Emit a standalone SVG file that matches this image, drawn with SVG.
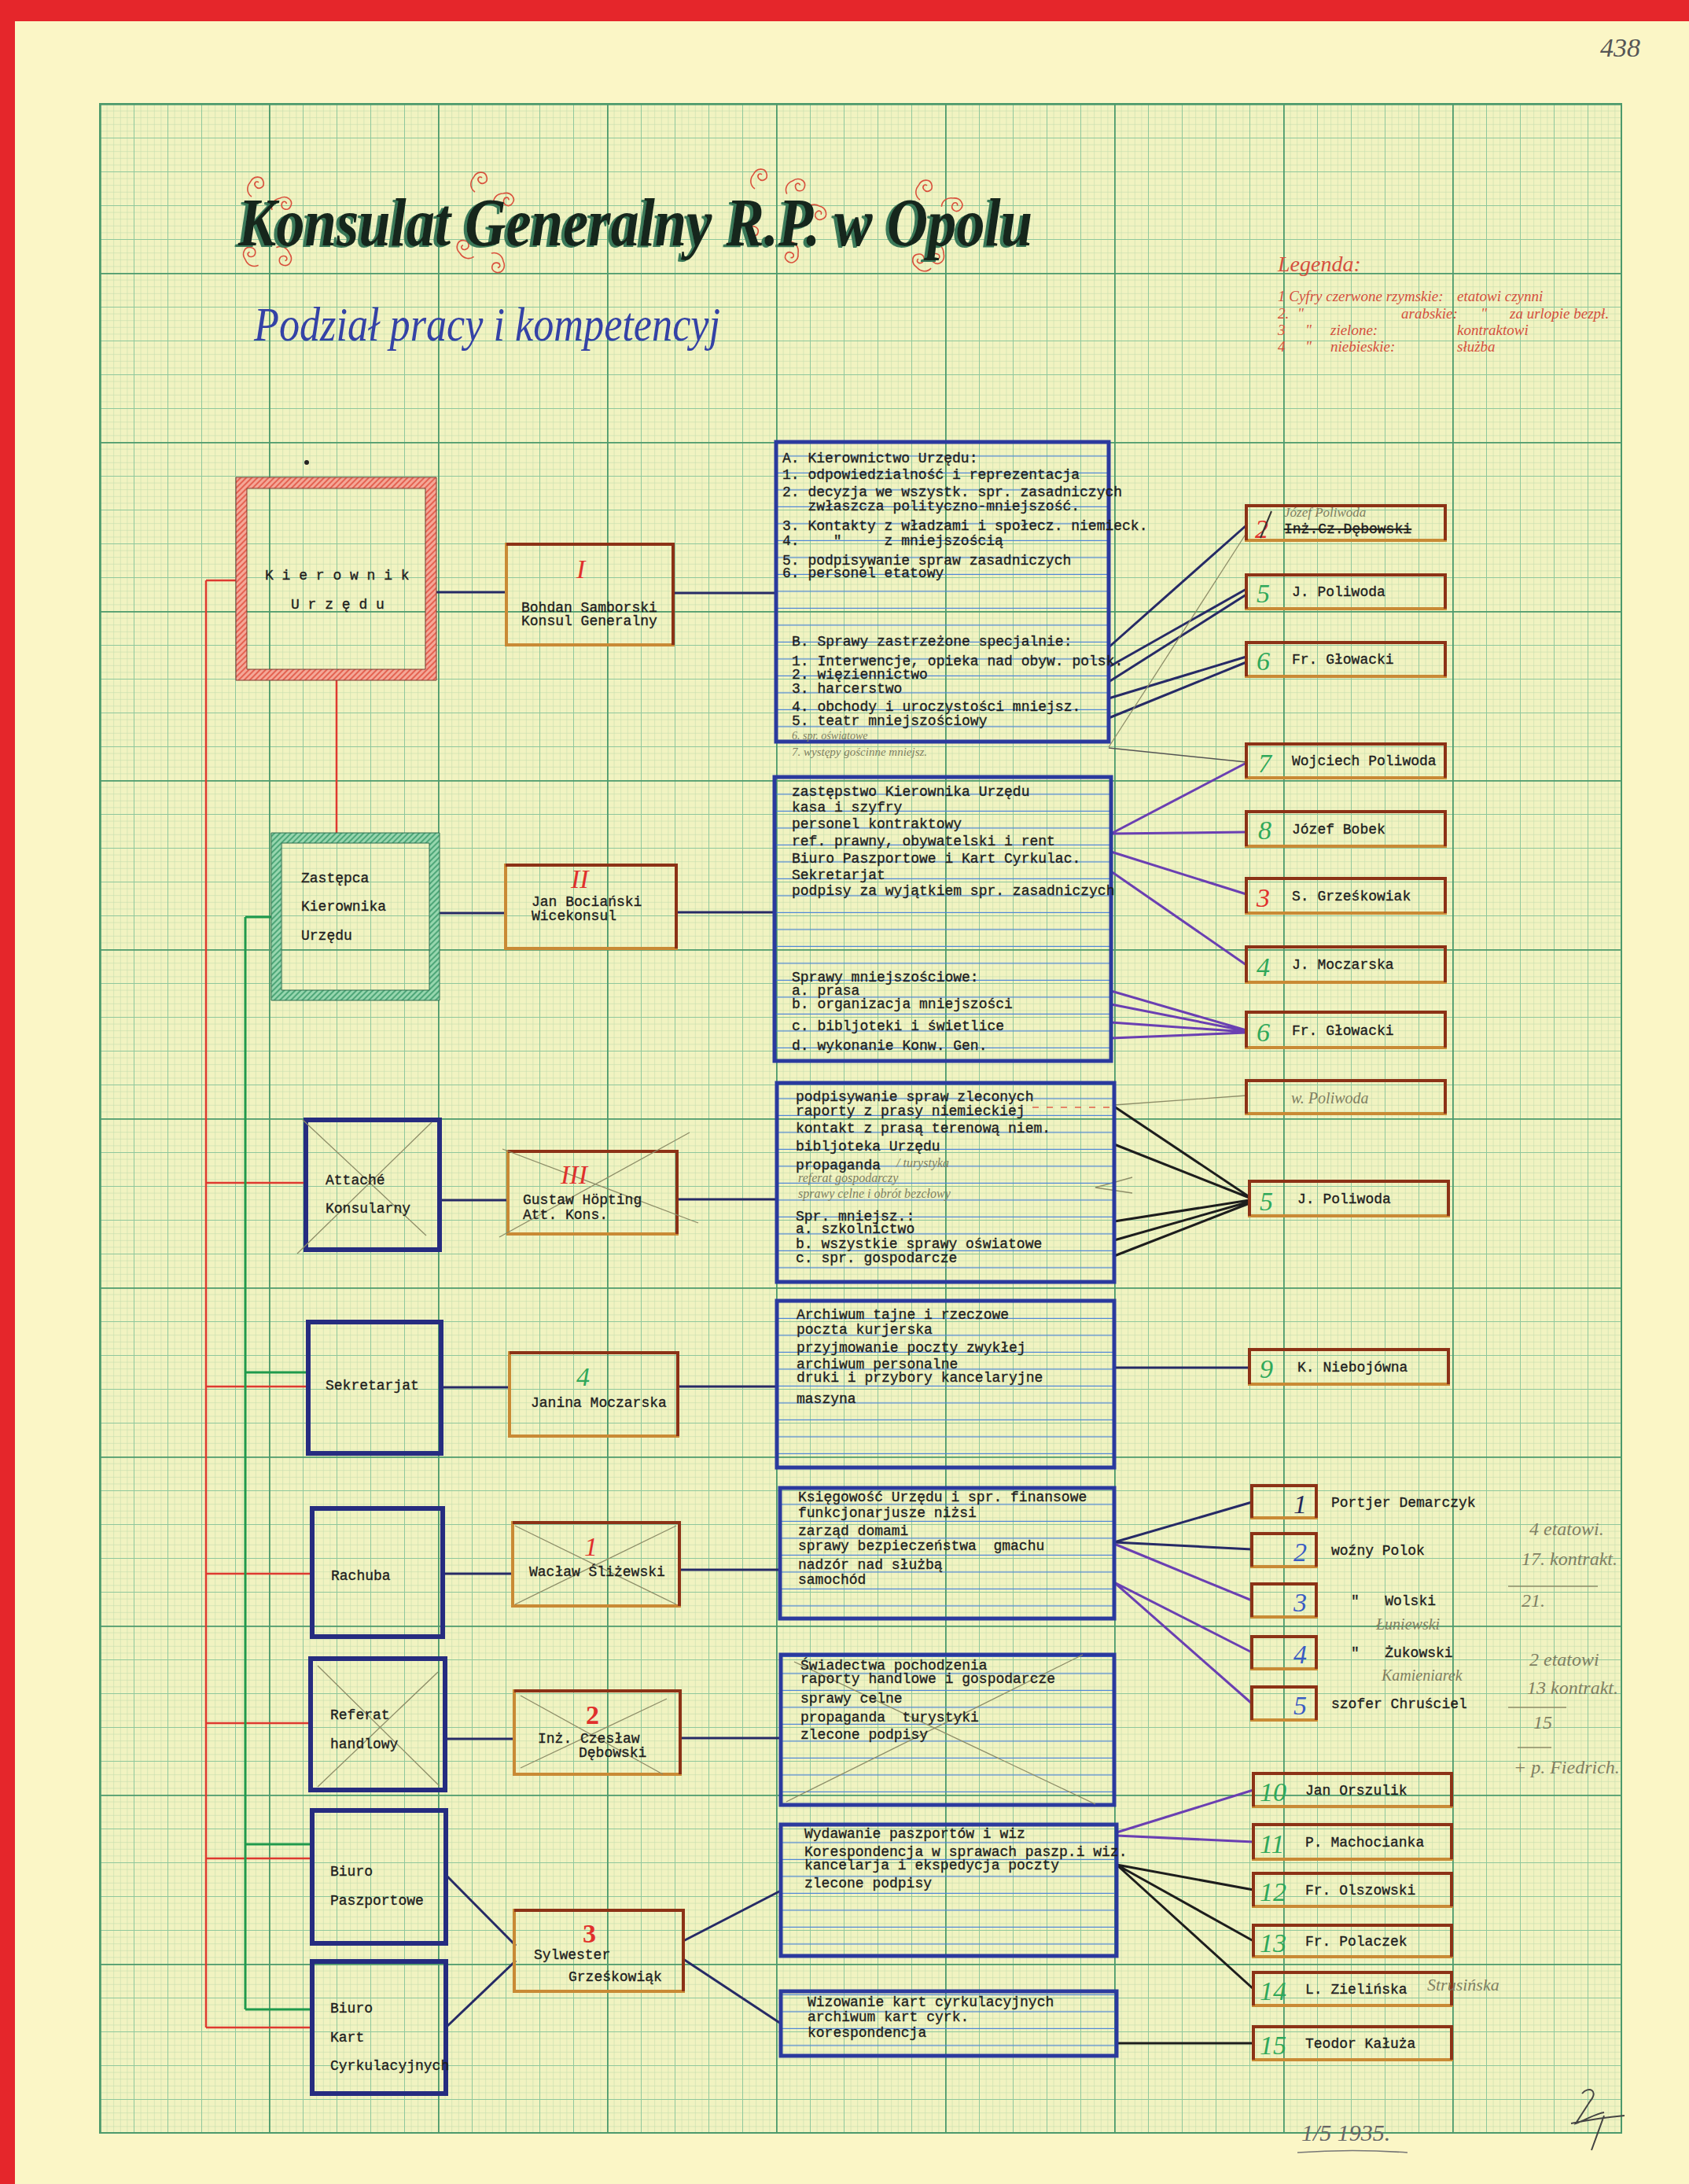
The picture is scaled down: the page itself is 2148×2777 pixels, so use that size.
<svg xmlns="http://www.w3.org/2000/svg" xmlns:xlink="http://www.w3.org/1999/xlink" width="2148" height="2777" viewBox="0 0 2148 2777">
<style>
.mono{font-family:"Liberation Mono","DejaVu Sans Mono",monospace;font-size:18px;fill:#1e1e1e;stroke:#1e1e1e;stroke-width:0.35}
.pre{white-space:pre}
.hand{font-family:"Liberation Serif","DejaVu Serif",serif;font-style:italic;fill:#7f7f62}
.blk{fill:none;stroke:#2b3a9e;stroke-width:5}
.dept{fill:none;stroke:#262c80;stroke-width:6}
.pers{fill:none;stroke:#c98a35;stroke-width:4}
.persd{fill:none;stroke:#8c3216;stroke-width:4}
.num{font-family:"Liberation Serif","DejaVu Serif",serif;font-style:italic;font-size:34px}
.bnum{font-family:"Liberation Serif","DejaVu Serif",serif;font-weight:bold;font-size:34px}
.red{fill:#e0302c}.grn{fill:#2fa85a}.blu{fill:#3a5cc4}.dk{fill:#23285a}
.cn{fill:none;stroke:#262a66;stroke-width:3}
.cp{fill:none;stroke:#6a3fb2;stroke-width:3}
.ck{fill:none;stroke:#1d1d1d;stroke-width:3}
.cr{fill:none;stroke:#de3a30;stroke-width:2.5}
.cg{fill:none;stroke:#1f9a4c;stroke-width:3}
.pencil{fill:none;stroke:#8d8d68;stroke-width:1.3}
.leg{font-family:"Liberation Serif","DejaVu Serif",serif;font-style:italic;font-size:19px;fill:#d4503e}
</style>
<defs>
<pattern id="g1" x="127" y="132" width="8.6" height="8.6" patternUnits="userSpaceOnUse"><path d="M0 0.3H8.6M0.3 0V8.6" stroke="#c3ddad" stroke-width="0.7" fill="none"/></pattern>
<pattern id="g2" x="127" y="132" width="43" height="43" patternUnits="userSpaceOnUse"><path d="M0 0.5H43M0.5 0V43" stroke="#8fc79c" stroke-width="1" fill="none"/></pattern>
<pattern id="g3" x="127" y="132" width="215" height="215" patternUnits="userSpaceOnUse"><path d="M0 0.9H215M0.9 0V215" stroke="#4c9a6c" stroke-width="1.8" fill="none"/></pattern>
<pattern id="rule" width="10" height="21.5" patternUnits="userSpaceOnUse"><path d="M0 21H10" stroke="#4f86d8" stroke-width="1.4"/></pattern>
<pattern id="hr" width="5" height="5" patternUnits="userSpaceOnUse" patternTransform="rotate(45)"><rect width="5" height="5" fill="#f4a898"/><path d="M1 0V5" stroke="#e0503f" stroke-width="1.6"/></pattern>
<pattern id="hg" width="5" height="5" patternUnits="userSpaceOnUse" patternTransform="rotate(45)"><rect width="5" height="5" fill="#97d6ae"/><path d="M1 0V5" stroke="#3a9a6a" stroke-width="1.6"/></pattern>
<path id="curl" d="M0 0c4-9 15-9 17-1c2 7-6 11-10 6c-3-4 1-8 4-5M0 0c-5 6-4 14 2 18" fill="none" stroke="#d9503c" stroke-width="1.6"/>
<filter id="sh" x="-5%" y="-20%" width="110%" height="140%"><feDropShadow dx="-4" dy="2" stdDeviation="0.5" flood-color="#3a7a5a"/></filter>
</defs>

<!-- page -->
<rect width="2148" height="2777" fill="#fbf6c6"/>
<rect x="0" y="0" width="2148" height="27" fill="#e5262b"/>
<rect x="0" y="0" width="19" height="2777" fill="#e5262b"/>
<rect x="127" y="132" width="1935" height="2580" fill="#f1f3c1"/>
<rect x="127" y="132" width="1935" height="2580" fill="url(#g1)"/>
<rect x="127" y="132" width="1935" height="2580" fill="url(#g2)"/>
<rect x="127" y="132" width="1935" height="2580" fill="url(#g3)"/>
<rect x="127" y="132" width="1935" height="2580" fill="none" stroke="#4c9a6c" stroke-width="2"/>

<text x="2035" y="72" font-family="Liberation Serif,serif" font-style="italic" font-size="34" fill="#555">438</text>

<!-- title -->
<g id="title">
<g>
<use xlink:href="#curl" transform="translate(318,232)"/><use xlink:href="#curl" transform="translate(356,252) rotate(40)"/><use xlink:href="#curl" transform="translate(312,330) rotate(-60)"/><use xlink:href="#curl" transform="translate(368,322) rotate(120)"/>
<use xlink:href="#curl" transform="translate(602,226)"/><use xlink:href="#curl" transform="translate(640,246) rotate(50)"/><use xlink:href="#curl" transform="translate(585,322) rotate(-70)"/><use xlink:href="#curl" transform="translate(640,332) rotate(130)"/>
<use xlink:href="#curl" transform="translate(958,222)"/><use xlink:href="#curl" transform="translate(1008,230) rotate(30)"/><use xlink:href="#curl" transform="translate(1042,262) rotate(80)"/><use xlink:href="#curl" transform="translate(950,302) rotate(-50)"/><use xlink:href="#curl" transform="translate(1015,322) rotate(150)"/>
<use xlink:href="#curl" transform="translate(1168,236)"/><use xlink:href="#curl" transform="translate(1212,252) rotate(60)"/><use xlink:href="#curl" transform="translate(1200,322) rotate(140)"/><use xlink:href="#curl" transform="translate(1166,340) rotate(-80)"/>
</g>
<text x="303" y="312" font-family="Liberation Serif,serif" font-style="italic" font-weight="bold" font-size="86" textLength="1010" lengthAdjust="spacingAndGlyphs" fill="#17251d" filter="url(#sh)">Konsulat Generalny R.P. w Opolu</text>
<text x="323" y="433" font-family="Liberation Serif,serif" font-style="italic" font-size="62" textLength="593" lengthAdjust="spacingAndGlyphs" fill="#3442a6">Podział pracy i kompetencyj</text>
</g>

<!-- legend -->
<g id="legend" class="leg">
<text x="1625" y="345" font-size="28">Legenda:</text>
<text x="1625" y="383">1 Cyfry czerwone rzymskie:</text><text x="1853" y="383">etatowi czynni</text>
<text x="1625" y="405">2.</text><text x="1650" y="405">"</text><text x="1782" y="405">arabskie:</text><text x="1883" y="405">"</text><text x="1920" y="405">za urlopie bezpł.</text>
<text x="1625" y="426">3</text><text x="1660" y="426">"</text><text x="1692" y="426">zielone:</text><text x="1853" y="426">kontraktowi</text>
<text x="1625" y="447">4</text><text x="1660" y="447">"</text><text x="1692" y="447">niebieskie:</text><text x="1853" y="447">służba</text>
</g>

<!-- connectors -->
<g id="connectors">
<path class="cr" d="M262 738H300M262 738V2578M428 865V1059M262 1504H389M262 1763H392M262 2001H397M262 2191H395M262 2363H397M262 2578H397"/>
<path class="cg" d="M312 1166H345M312 1166V2555M312 1745H392M312 2345H397M312 2555H397"/>
<path class="cn" d="M555 753H644M856 754H987M559 1161H643M860 1160H985M559 1526H646M861 1525H988M561 1764H648M862 1763H988M563 2001H652M864 1996H992M566 2211H654M865 2210H993"/>
<path class="cn" d="M568 2385L656 2474M568 2577L656 2493M869 2468L993 2404M869 2491L993 2573" stroke="#3d3585"/>
<path class="cn" d="M1410 823L1585 668M1410 848L1585 749M1410 867L1585 756M1410 888L1585 835M1410 913L1585 842"/>
<path class="pencil" d="M1410 950L1585 678"/>
<path fill="none" stroke="#555" stroke-width="1.6" d="M1410 951L1585 969"/>
<path class="cp" d="M1413 1060L1585 970M1413 1060L1585 1058M1413 1083L1585 1137M1413 1108L1585 1227M1413 1260L1585 1310M1413 1277L1585 1311M1413 1300L1585 1312M1413 1320L1585 1313"/>
<path class="ck" d="M1417 1407L1589 1522M1417 1455L1589 1523M1417 1553L1589 1526M1417 1577L1589 1528M1417 1597L1589 1530"/>
<path fill="none" stroke="#e0604a" stroke-width="1.6" stroke-dasharray="8 10" d="M1313 1408H1417"/>
<path class="pencil" d="M1417 1405L1585 1393M1440 1497L1393 1510L1440 1517"/>
<path class="cn" d="M1417 1739H1589"/>
<path class="cn" d="M1417 1961L1592 1910M1417 1961L1592 1970"/>
<path class="cp" d="M1417 1963L1592 2035M1417 2012L1592 2101M1417 2012L1592 2166"/>
<path class="cp" d="M1420 2330L1594 2276M1420 2334L1594 2342"/>
<path class="ck" d="M1420 2371L1594 2403M1420 2371L1594 2468M1420 2371L1594 2529M1420 2598H1594"/>
</g>

<!-- left department nodes -->
<g id="kierownik">
<path d="M300 607H555V865H300ZM314 621V851H541V621Z" fill="url(#hr)" fill-rule="evenodd" stroke="#7a3a30" stroke-width="1"/>
<circle cx="390" cy="588" r="3" fill="#222"/>
<text class="mono" x="337" y="737" letter-spacing="10.8">Kierownik</text>
<text class="mono" x="370" y="774" letter-spacing="10.8">Urzędu</text>
</g>
<g id="zastepca">
<path d="M345 1059H559V1272H345ZM358 1072V1259H546V1072Z" fill="url(#hg)" fill-rule="evenodd" stroke="#2f6f50" stroke-width="1"/>
<text class="mono" x="383" y="1122">Zastępca</text>
<text class="mono" x="383" y="1158">Kierownika</text>
<text class="mono" x="383" y="1195">Urzędu</text>
</g>
<g id="attache">
<rect class="dept" x="389" y="1424" width="170" height="165"/>
<path class="pencil" d="M385 1424L542 1571M378 1594L549 1427"/>
<text class="mono" x="414" y="1506">Attaché</text>
<text class="mono" x="414" y="1542">Konsularny</text>
</g>
<g id="sekretarjat">
<rect class="dept" x="392" y="1681" width="169" height="167"/>
<text class="mono" x="414" y="1767">Sekretarjat</text>
</g>
<g id="rachuba">
<rect class="dept" x="397" y="1918" width="166" height="163"/>
<text class="mono" x="421" y="2009">Rachuba</text>
</g>
<g id="referat">
<rect class="dept" x="395" y="2109" width="171" height="167"/>
<path class="pencil" d="M404 2118L559 2271M404 2272L557 2126"/>
<text class="mono" x="420" y="2186">Referat</text>
<text class="mono" x="420" y="2223">handlowy</text>
</g>
<g id="biuro-paszportowe">
<rect class="dept" x="397" y="2302" width="170" height="169"/>
<text class="mono" x="420" y="2385">Biuro</text>
<text class="mono" x="420" y="2422">Paszportowe</text>
</g>
<g id="biuro-kart">
<rect class="dept" x="397" y="2494" width="170" height="168"/>
<text class="mono" x="420" y="2559">Biuro</text>
<text class="mono" x="420" y="2596">Kart</text>
<text class="mono" x="420" y="2632">Cyrkulacyjnych</text>
</g>

<!-- person nodes -->
<g id="p-samborski">
<rect class="pers" x="644" y="692" width="212" height="128"/><path class="persd" d="M644 692H856V820"/>
<text class="num red" x="733" y="735" font-size="40">I</text>
<text class="mono" x="663" y="778">Bohdan Samborski</text>
<text class="mono" x="663" y="795">Konsul Generalny</text>
</g>
<g id="p-bocianski">
<rect class="pers" x="643" y="1100" width="217" height="106"/><path class="persd" d="M643 1100H860V1206"/>
<text class="num red" x="726" y="1129" font-size="30">II</text>
<text class="mono" x="676" y="1152">Jan Bociański</text>
<text class="mono" x="676" y="1170">Wicekonsul</text>
</g>
<g id="p-hopting">
<rect class="pers" x="646" y="1464" width="215" height="105"/><path class="persd" d="M646 1464H861V1569"/>
<path class="pencil" d="M639 1461L888 1555M635 1573L877 1440"/>
<text class="num red" x="713" y="1505" font-size="30">III</text>
<text class="mono" x="665" y="1531">Gustaw Höpting</text>
<text class="mono" x="665" y="1550">Att. Kons.</text>
</g>
<g id="p-moczarska">
<rect class="pers" x="648" y="1720" width="214" height="106"/><path class="persd" d="M648 1720H862V1826"/>
<text class="num grn" x="733" y="1762" font-size="32">4</text>
<text class="mono" x="675" y="1789">Janina Moczarska</text>
</g>
<g id="p-slizewski">
<rect class="pers" x="652" y="1936" width="212" height="106"/><path class="persd" d="M652 1936H864V2042"/>
<path class="pencil" d="M655 1940L860 2040M655 2040L860 1940"/>
<text class="num red" x="743" y="1978" font-size="32">1</text>
<text class="mono" x="673" y="2004">Wacław Śliżewski</text>
</g>
<g id="p-debowski">
<rect class="pers" x="654" y="2150" width="211" height="106"/><path class="persd" d="M654 2150H865V2256"/>
<path class="pencil" d="M662 2156L843 2256M662 2248L848 2160"/>
<text class="bnum red" x="745" y="2192" font-size="32">2</text>
<text class="mono" x="684" y="2216">Inż. Czesław</text>
<text class="mono" x="736" y="2234">Dębowski</text>
</g>
<g id="p-grzeskowiak">
<rect class="pers" x="654" y="2429" width="215" height="103"/><path class="persd" d="M654 2429H869V2532"/>
<text class="bnum red" x="741" y="2470" font-size="32">3</text>
<text class="mono" x="679" y="2491">Sylwester</text>
<text class="mono" x="723" y="2519">Grześkowiąk</text>
</g>

<!-- competence blocks -->
<g id="blok-a">
<rect x="987" y="562" width="423" height="381" fill="url(#rule)"/>
<rect class="blk" x="987" y="562" width="423" height="381"/>
<text class="mono" x="995" y="588">A. Kierownictwo Urzędu:</text>
<text class="mono" x="995" y="609">1. odpowiedzialność i reprezentacja</text>
<text class="mono" x="995" y="631">2. decyzja we wszystk. spr. zasadniczych</text>
<text class="mono pre" xml:space="preserve" x="995" y="649">   zwłaszcza polityczno-mniejszość.</text>
<text class="mono" x="995" y="674">3. Kontakty z władzami i społecz. niemieck.</text>
<text class="mono pre" xml:space="preserve" x="995" y="693">4.    "     z mniejszością</text>
<text class="mono" x="995" y="718">5. podpisywanie spraw zasadniczych</text>
<text class="mono" x="995" y="734">6. personel etatowy</text>
<text class="mono" x="1007" y="821">B. Sprawy zastrzeżone specjalnie:</text>
<text class="mono" x="1007" y="846">1. Interwencje, opieka nad obyw. polsk.</text>
<text class="mono" x="1007" y="863">2. więziennictwo</text>
<text class="mono" x="1007" y="881">3. harcerstwo</text>
<text class="mono" x="1007" y="904">4. obchody i uroczystości mniejsz.</text>
<text class="mono" x="1007" y="922">5. teatr mniejszościowy</text>
<text class="hand" x="1007" y="940" font-size="14">6. spr. oświatowe</text>
<text class="hand" x="1007" y="961" font-size="15">7. występy gościnne mniejsz.</text>
</g>
<g id="blok-b">
<rect x="985" y="988" width="428" height="361" fill="url(#rule)"/>
<rect class="blk" x="985" y="988" width="428" height="361"/>
<text class="mono" x="1007" y="1012">zastępstwo Kierownika Urzędu</text>
<text class="mono" x="1007" y="1032">kasa i szyfry</text>
<text class="mono" x="1007" y="1053">personel kontraktowy</text>
<text class="mono" x="1007" y="1075">ref. prawny, obywatelski i rent</text>
<text class="mono" x="1007" y="1097">Biuro Paszportowe i Kart Cyrkulac.</text>
<text class="mono" x="1007" y="1118">Sekretarjat</text>
<text class="mono" x="1007" y="1138">podpisy za wyjątkiem spr. zasadniczych</text>
<text class="mono" x="1007" y="1248">Sprawy mniejszościowe:</text>
<text class="mono" x="1007" y="1265">a. prasa</text>
<text class="mono" x="1007" y="1282">b. organizacja mniejszości</text>
<text class="mono" x="1007" y="1310">c. bibljoteki i świetlice</text>
<text class="mono" x="1007" y="1335">d. wykonanie Konw. Gen.</text>
</g>
<g id="blok-c">
<rect x="988" y="1377" width="429" height="253" fill="url(#rule)"/>
<rect class="blk" x="988" y="1377" width="429" height="253"/>
<text class="mono" x="1012" y="1400">podpisywanie spraw zleconych</text>
<text class="mono" x="1012" y="1418">raporty z prasy niemieckiej</text>
<text class="mono" x="1012" y="1440">kontakt z prasą terenową niem.</text>
<text class="mono" x="1012" y="1463">bibljoteka Urzędu</text>
<text class="mono" x="1012" y="1487">propaganda</text>
<text class="hand" x="1140" y="1484" font-size="16">/ turystyka</text>
<text class="hand" x="1015" y="1503" font-size="16">referat gospodarczy</text>
<text class="hand" x="1015" y="1523" font-size="16">sprawy celne i obrót bezcłowy</text>
<text class="mono" x="1012" y="1552">Spr. mniejsz.:</text>
<text class="mono" x="1012" y="1568">a. szkolnictwo</text>
<text class="mono" x="1012" y="1587">b. wszystkie sprawy oświatowe</text>
<text class="mono" x="1012" y="1605">c. spr. gospodarcze</text>
</g>
<g id="blok-d">
<rect x="988" y="1654" width="429" height="212" fill="url(#rule)"/>
<rect class="blk" x="988" y="1654" width="429" height="212"/>
<text class="mono" x="1013" y="1677">Archiwum tajne i rzeczowe</text>
<text class="mono" x="1013" y="1696">poczta kurjerska</text>
<text class="mono" x="1013" y="1719">przyjmowanie poczty zwykłej</text>
<text class="mono" x="1013" y="1740">archiwum personalne</text>
<text class="mono" x="1013" y="1757">druki i przybory kancelaryjne</text>
<text class="mono" x="1013" y="1784">maszyna</text>
</g>
<g id="blok-e">
<rect x="992" y="1892" width="425" height="166" fill="url(#rule)"/>
<rect class="blk" x="992" y="1892" width="425" height="166"/>
<text class="mono" x="1015" y="1909">Księgowość Urzędu i spr. finansowe</text>
<text class="mono" x="1015" y="1929">funkcjonarjusze niżsi</text>
<text class="mono" x="1015" y="1952">zarząd domami</text>
<text class="mono pre" xml:space="preserve" x="1015" y="1971">sprawy bezpieczeństwa  gmachu</text>
<text class="mono" x="1015" y="1995">nadzór nad służbą</text>
<text class="mono" x="1015" y="2014">samochód</text>
</g>
<g id="blok-f">
<rect x="993" y="2104" width="424" height="191" fill="url(#rule)"/>
<rect class="blk" x="993" y="2104" width="424" height="191"/>
<path class="pencil" d="M1000 2291L1377 2104M1010 2113L1393 2294"/>
<text class="mono" x="1018" y="2123">Świadectwa pochodzenia</text>
<text class="mono" x="1018" y="2140">raporty handlowe i gospodarcze</text>
<text class="mono" x="1018" y="2165">sprawy celne</text>
<text class="mono pre" xml:space="preserve" x="1018" y="2189">propaganda  turystyki</text>
<text class="mono" x="1018" y="2211">zlecone podpisy</text>
</g>
<g id="blok-g">
<rect x="993" y="2320" width="427" height="167" fill="url(#rule)"/>
<rect class="blk" x="993" y="2320" width="427" height="167"/>
<text class="mono" x="1023" y="2337">Wydawanie paszportów i wiz</text>
<text class="mono" x="1023" y="2360">Korespondencja w sprawach paszp.i wiz.</text>
<text class="mono" x="1023" y="2377">kancelarja i ekspedycja poczty</text>
<text class="mono" x="1023" y="2400">zlecone podpisy</text>
</g>
<g id="blok-h">
<rect x="993" y="2532" width="427" height="82" fill="url(#rule)"/>
<rect class="blk" x="993" y="2532" width="427" height="82"/>
<text class="mono" x="1027" y="2551">Wizowanie kart cyrkulacyjnych</text>
<text class="mono" x="1027" y="2570">archiwum kart cyrk.</text>
<text class="mono" x="1027" y="2590">korespondencja</text>
</g>

<!-- staff nodes -->
<g id="s-debowski">
<rect class="pers" x="1585" y="643" width="253" height="44"/><path class="persd" d="M1585 687V643H1838V687"/>
<text class="num red" x="1596" y="684">2</text><path d="M1603 684L1617 650" stroke="#333" stroke-width="2"/>
<text class="hand" x="1633" y="657" font-size="17" fill="#555">Józef Poliwoda</text>
<text class="mono" x="1633" y="678" text-decoration="line-through">Inż.Cz.Dębowski</text>
</g>
<g id="s-poliwoda1">
<rect class="pers" x="1585" y="731" width="253" height="43"/><path class="persd" d="M1585 774V731H1838V774"/>
<text class="num grn" x="1598" y="766">5</text><text class="mono" x="1643" y="758">J. Poliwoda</text>
</g>
<g id="s-glowacki1">
<rect class="pers" x="1585" y="817" width="253" height="43"/><path class="persd" d="M1585 860V817H1838V860"/>
<text class="num grn" x="1598" y="852">6</text><text class="mono" x="1643" y="844">Fr. Głowacki</text>
</g>
<g id="s-wpoliwoda">
<rect class="pers" x="1585" y="946" width="253" height="43"/><path class="persd" d="M1585 989V946H1838V989"/>
<text class="num grn" x="1600" y="982">7</text><text class="mono" x="1643" y="973">Wojciech Poliwoda</text>
</g>
<g id="s-bobek">
<rect class="pers" x="1585" y="1032" width="253" height="44"/><path class="persd" d="M1585 1076V1032H1838V1076"/>
<text class="num grn" x="1600" y="1067">8</text><text class="mono" x="1643" y="1060">Józef Bobek</text>
</g>
<g id="s-grzeskowiak">
<rect class="pers" x="1585" y="1117" width="253" height="44"/><path class="persd" d="M1585 1161V1117H1838V1161"/>
<text class="num red" x="1598" y="1153">3</text><text class="mono" x="1643" y="1145">S. Grześkowiak</text>
</g>
<g id="s-moczarska">
<rect class="pers" x="1585" y="1204" width="253" height="45"/><path class="persd" d="M1585 1249V1204H1838V1249"/>
<text class="num grn" x="1598" y="1241">4</text><text class="mono" x="1643" y="1232">J. Moczarska</text>
</g>
<g id="s-glowacki2">
<rect class="pers" x="1585" y="1287" width="253" height="45"/><path class="persd" d="M1585 1332V1287H1838V1332"/>
<text class="num grn" x="1598" y="1324">6</text><text class="mono" x="1643" y="1316">Fr. Głowacki</text>
</g>
<g id="s-wpoliwoda2">
<rect class="pers" x="1585" y="1374" width="253" height="42"/><path class="persd" d="M1585 1416V1374H1838V1416"/>
<text class="hand" x="1642" y="1403" font-size="20" fill="#c0603a">w. Poliwoda</text>
</g>
<g id="s-poliwoda2">
<rect class="pers" x="1589" y="1502" width="253" height="44"/><path class="persd" d="M1589 1546V1502H1842V1546"/>
<text class="num grn" x="1602" y="1539">5</text><text class="mono" x="1650" y="1530">J. Poliwoda</text>
</g>
<g id="s-niebojowna">
<rect class="pers" x="1589" y="1716" width="253" height="44"/><path class="persd" d="M1589 1760V1716H1842V1760"/>
<text class="num grn" x="1602" y="1752">9</text><text class="mono" x="1650" y="1744">K. Niebojówna</text>
</g>
<g id="s-demarczyk">
<rect class="pers" x="1592" y="1889" width="82" height="41"/><path class="persd" d="M1592 1930V1889H1674V1930"/>
<text class="num dk" x="1645" y="1924" font-size="30">1</text><text class="mono" x="1693" y="1916">Portjer Demarczyk</text>
</g>
<g id="s-polok">
<rect class="pers" x="1592" y="1950" width="82" height="42"/><path class="persd" d="M1592 1992V1950H1674V1992"/>
<text class="num blu" x="1645" y="1985" font-size="30">2</text><text class="mono" x="1693" y="1977">woźny Polok</text>
</g>
<g id="s-wolski">
<rect class="pers" x="1592" y="2014" width="82" height="42"/><path class="persd" d="M1592 2056V2014H1674V2056"/>
<text class="num blu" x="1645" y="2049" font-size="30">3</text><text class="mono pre" xml:space="preserve" x="1718" y="2041">"   Wolski</text>
</g>
<g id="s-zukowski">
<rect class="pers" x="1592" y="2081" width="82" height="41"/><path class="persd" d="M1592 2122V2081H1674V2122"/>
<text class="num blu" x="1645" y="2115" font-size="30">4</text><text class="mono pre" xml:space="preserve" x="1718" y="2107">"   Żukowski</text>
<text class="hand" x="1750" y="2072" font-size="20">Łuniewski</text>
<text class="hand" x="1757" y="2137" font-size="20">Kamieniarek</text>
</g>
<g id="s-chrusciel">
<rect class="pers" x="1592" y="2145" width="82" height="42"/><path class="persd" d="M1592 2187V2145H1674V2187"/>
<text class="num blu" x="1645" y="2180" font-size="30">5</text><text class="mono" x="1693" y="2172">szofer Chruściel</text>
</g>
<g id="s-orszulik">
<rect class="pers" x="1594" y="2255" width="252" height="42"/><path class="persd" d="M1594 2297V2255H1846V2297"/>
<text class="num grn" x="1602" y="2290" font-size="32">10</text><text class="mono" x="1660" y="2282">Jan Orszulik</text>
</g>
<g id="s-machocianka">
<rect class="pers" x="1594" y="2320" width="252" height="44"/><path class="persd" d="M1594 2364V2320H1846V2364"/>
<text class="num grn" x="1602" y="2356" font-size="32">11</text><text class="mono" x="1660" y="2348">P. Machocianka</text>
</g>
<g id="s-olszowski">
<rect class="pers" x="1594" y="2382" width="252" height="42"/><path class="persd" d="M1594 2424V2382H1846V2424"/>
<text class="num grn" x="1602" y="2417" font-size="32">12</text><text class="mono" x="1660" y="2409">Fr. Olszowski</text>
</g>
<g id="s-polaczek">
<rect class="pers" x="1594" y="2448" width="252" height="40"/><path class="persd" d="M1594 2488V2448H1846V2488"/>
<text class="num grn" x="1602" y="2482" font-size="32">13</text><text class="mono" x="1660" y="2474">Fr. Polaczek</text>
</g>
<g id="s-zielinska">
<rect class="pers" x="1594" y="2508" width="252" height="42"/><path class="persd" d="M1594 2550V2508H1846V2550"/>
<text class="num grn" x="1602" y="2543" font-size="32">14</text><text class="mono" x="1660" y="2535">L. Zielińska</text>
<text class="hand" x="1815" y="2531" font-size="22">Strusińska</text>
</g>
<g id="s-kaluza">
<rect class="pers" x="1594" y="2577" width="252" height="42"/><path class="persd" d="M1594 2619V2577H1846V2619"/>
<text class="num grn" x="1602" y="2612" font-size="32">15</text><text class="mono" x="1660" y="2604">Teodor Kałuża</text>
</g>

<!-- pencil tally notes -->
<g id="tally" class="hand" font-size="24">
<text x="1945" y="1952">4 etatowi.</text>
<text x="1935" y="1990">17. kontrakt.</text>
<path class="pencil" d="M1918 2017H2032"/>
<text x="1935" y="2043">21.</text>
<text x="1945" y="2118">2 etatowi</text>
<text x="1942" y="2154">13 kontrakt.</text>
<path class="pencil" d="M1918 2171H1992"/>
<text x="1950" y="2198">15</text>
<path class="pencil" d="M1930 2222H1973"/>
<text x="1925" y="2255">+ p. Fiedrich.</text>
</g>

<!-- date and signature -->
<g id="footer">
<text x="1655" y="2722" font-family="Liberation Serif,serif" font-style="italic" font-size="30" fill="#666">1/5 1935.</text>
<path d="M1650 2737q70-5 140 0" fill="none" stroke="#777" stroke-width="1.6"/>
<path d="M2012 2662c8-10 22-4 10 10l-18 28c12-4 24-12 36-14M2040 2690l-16 44M1998 2700c20-4 44-8 68-10" fill="none" stroke="#444" stroke-width="2"/>
</g>
</svg>
